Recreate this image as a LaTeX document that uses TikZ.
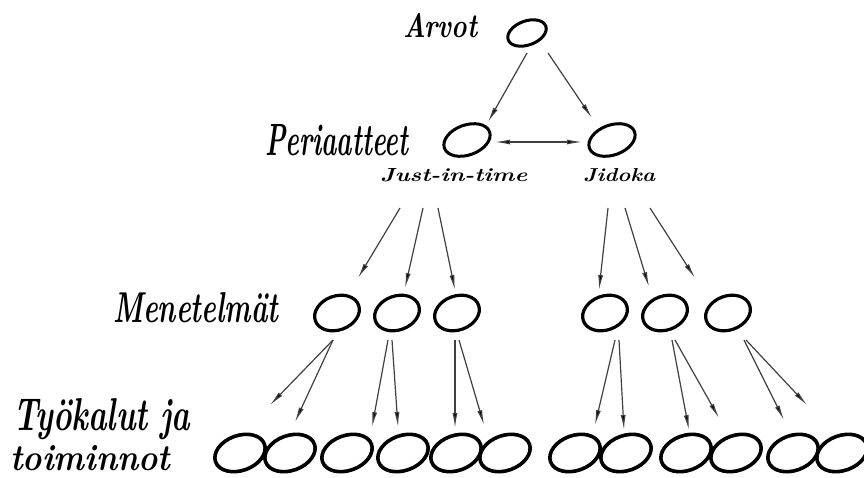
\documentclass[tikz,border=0pt]{standalone}
\usepackage{graphicx}
\usetikzlibrary{shapes.geometric,arrows.meta}
\tikzset{
  ovA/.style={draw, ellipse, line width=3pt, minimum width=40pt, minimum height=24pt, inner sep=0pt, rotate=20},
  ovB/.style={draw, ellipse, line width=3pt, minimum width=48pt, minimum height=30pt, inner sep=0pt, rotate=20},
  ovC/.style={draw, ellipse, line width=3.2pt, minimum width=46pt, minimum height=34pt, inner sep=0pt, rotate=20},
  ovD/.style={draw, ellipse, line width=3.6pt, minimum width=52pt, minimum height=35pt, inner sep=0pt, rotate=20},
  lbl/.style={anchor=base west, inner sep=0pt},
  tip/.tip={Latex[length=15pt,width=5pt,fill=black]},
  arr/.style={draw=black!75, line width=1.2pt, -tip},
  darr/.style={draw=black!75, line width=1.2pt, tip-tip}
}
\newcommand{\hw}[3]{\resizebox{#1pt}{#2pt}{\bfseries\itshape #3}}
\begin{document}
\begin{tikzpicture}[x=1pt,y=-1pt]
\useasboundingbox (0,0) rectangle (864,477);
% labels
\node[lbl] (tArvot) at (403,37) {\hw{74}{24}{Arvot}};
\node[lbl] (tPeri) at (265,155) {\hw{143}{31}{Periaatteet}};
\node[lbl] (tJit) at (380,181) {\hw{147}{13}{Just-in-time}};
\node[lbl] (tJid) at (583,181) {\hw{72}{13}{Jidoka}};
\node[lbl] (tMen) at (113,322) {\hw{165}{30}{Menetelmät}};
\node[lbl] (tTyo) at (13,430) {\hw{177}{32}{Työkalut ja}};
\node[lbl] (tToi) at (10,470) {\hw{160}{25}{toiminnot}};
% ellipses
\node[ovA] (a) at (527,33) {};
\node[ovB] (p1) at (467,140) {};
\node[ovB] (p2) at (612,140) {};
\foreach \n/\x in {m1/337,m2/397,m3/457,m4/605,m5/665,m6/728}
  \node[ovC] (\n) at (\x,313) {};
\foreach \n/\x in {k1/240,k2/290,k3/347,k4/403,k5/456,k6/505,k7/575,k8/626,k9/686,k10/736,k11/793,k12/842}
  \node[ovD] (\n) at (\x,453) {};
% arrow end points
\coordinate (a1s) at (527,53); \coordinate (a1e) at (488,122);
\coordinate (a2s) at (548,53); \coordinate (a2e) at (592,118);
\coordinate (ds) at (495,142); \coordinate (de) at (582,142);
\coordinate (j1s) at (400,208); \coordinate (j1e) at (358,278);
\coordinate (j2s) at (423,208); \coordinate (j2e) at (405,288);
\coordinate (j3s) at (438,208); \coordinate (j3e) at (455,290);
\coordinate (i1s) at (608,208); \coordinate (i1e) at (599,290);
\coordinate (i2s) at (625,208); \coordinate (i2e) at (649,287);
\coordinate (i3s) at (650,208); \coordinate (i3e) at (695,278);
\coordinate (m1s) at (333,340); \coordinate (m1a) at (270,405); \coordinate (m1b) at (295,422);
\coordinate (m2s) at (388,340); \coordinate (m2t) at (392,340); \coordinate (m2a) at (372,427); \coordinate (m2b) at (398,427);
\coordinate (m3s) at (455,340); \coordinate (m3t) at (459,340); \coordinate (m3a) at (455,428); \coordinate (m3b) at (484,425);
\coordinate (m4s) at (615,340); \coordinate (m4t) at (619,340); \coordinate (m4a) at (595,425); \coordinate (m4b) at (624,430);
\coordinate (m5s) at (672,340); \coordinate (m5t) at (675,340); \coordinate (m5a) at (689,430); \coordinate (m5b) at (719,418);
\coordinate (m6s) at (744,340); \coordinate (m6t) at (746,340); \coordinate (m6a) at (784,420); \coordinate (m6b) at (807,405);
% arrows
\draw[arr] (a1s) -- (a1e);
\draw[arr] (a2s) -- (a2e);
\draw[darr] (ds) -- (de);
\draw[arr] (j1s) -- (j1e);
\draw[arr] (j2s) -- (j2e);
\draw[arr] (j3s) -- (j3e);
\draw[arr] (i1s) -- (i1e);
\draw[arr] (i2s) -- (i2e);
\draw[arr] (i3s) -- (i3e);
\draw[arr] (m1s) -- (m1a);
\draw[arr] (m1s) -- (m1b);
\draw[arr] (m2s) -- (m2a);
\draw[arr] (m2t) -- (m2b);
\draw[arr] (m3s) -- (m3a);
\draw[arr] (m3t) -- (m3b);
\draw[arr] (m4s) -- (m4a);
\draw[arr] (m4t) -- (m4b);
\draw[arr] (m5s) -- (m5a);
\draw[arr] (m5t) -- (m5b);
\draw[arr] (m6s) -- (m6a);
\draw[arr] (m6t) -- (m6b);
\end{tikzpicture}
\end{document}
